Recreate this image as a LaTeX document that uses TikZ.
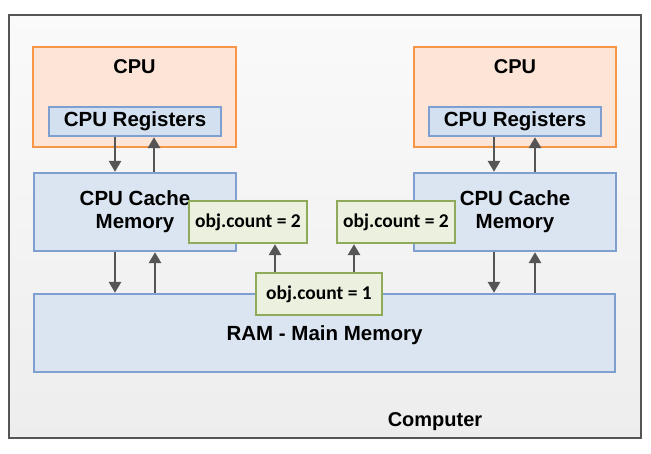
\documentclass[tikz,border=0pt]{standalone}
\usepackage{fontspec}
\setmainfont{Liberation Sans}
\newfontfamily\objfont{Carlito}
\usetikzlibrary{arrows.meta}
\definecolor{cpufill}{HTML}{FCE4D6}
\definecolor{cpuline}{HTML}{F79646}
\definecolor{bluefill}{HTML}{DBE5F1}
\definecolor{regfill}{HTML}{D3E0F0}
\definecolor{blueline}{HTML}{7E9FCF}
\definecolor{greenfill}{HTML}{EBF1DE}
\definecolor{greenline}{HTML}{8FAA58}
\definecolor{arrowgray}{HTML}{555555}
\definecolor{frameline}{HTML}{555555}
\tikzset{
  box/.style={rectangle, inner sep=0pt, line width=2.3pt, font=\fontsize{20.5}{23}\selectfont\bfseries, align=center},
  cpubox/.style={box, draw=cpuline, fill=cpufill},
  bluebox/.style={box, draw=blueline, fill=bluefill},
  regbox/.style={box, draw=blueline, fill=regfill},
  objbox/.style={rectangle, inner sep=0pt, line width=2.3pt, draw=greenline, fill=greenfill, font=\objfont\fontsize{19.5}{22}\selectfont\bfseries},
  arr/.style={draw=arrowgray, line width=2.8pt, -{Triangle[length=11pt,width=12pt]}},
  lbl/.style={font=\fontsize{20}{22}\selectfont\bfseries, inner sep=0pt}
}
\begin{document}
\begin{tikzpicture}[x=1pt,y=-1pt]
\useasboundingbox (0,0) rectangle (651,453);
\node[rectangle, draw=frameline, line width=2.5pt, top color=white!98!black, bottom color=white!93!black, minimum width=632pt, minimum height=423pt, inner sep=0pt] (computer) at (325,226.5) {};
\node[lbl] (complbl) at (435,422) {Computer};
% left
\node[cpubox, minimum width=203pt, minimum height=100pt] (cpuL) at (134.5,97) {};
\node[lbl] (cpuLt) at (134.5,67) {CPU};
\node[regbox, minimum width=172pt, minimum height=29pt] (regL) at (135,121.5) {CPU Registers};
\node[bluebox, minimum width=202pt, minimum height=78pt] (cacheL) at (135,212) {CPU Cache\\Memory};
% right
\node[cpubox, minimum width=202pt, minimum height=100pt] (cpuR) at (515,97) {};
\node[lbl] (cpuRt) at (515,67) {CPU};
\node[regbox, minimum width=172pt, minimum height=29pt] (regR) at (515,121.5) {CPU Registers};
\node[bluebox, minimum width=202pt, minimum height=78pt] (cacheR) at (515,212) {CPU Cache\\Memory};
% RAM
\node[bluebox, minimum width=581pt, minimum height=78pt, text depth=0pt] (ram) at (324.5,333) {RAM - Main Memory};
% objs
\node[objbox, minimum width=118pt, minimum height=42pt] (objL) at (248,222) {obj.count = 2};
\node[objbox, minimum width=118pt, minimum height=42pt] (objR) at (396,222) {obj.count = 2};
\node[objbox, minimum width=126pt, minimum height=42pt] (obj1) at (319,294) {obj.count = 1};
% arrows regs <-> cache
\draw[arr] ([xshift=-20pt]regL.south) -- ([xshift=-20pt]regL.south |- cacheL.north);
\draw[arr] ([xshift=19pt]regL.south |- cacheL.north) -- ([xshift=19pt]regL.south);
\draw[arr] ([xshift=-21pt]regR.south) -- ([xshift=-21pt]regR.south |- cacheR.north);
\draw[arr] ([xshift=20pt]regR.south |- cacheR.north) -- ([xshift=20pt]regR.south);
% cache <-> ram
\draw[arr] ([xshift=-20pt]cacheL.south) -- ([xshift=-20pt]cacheL.south |- ram.north);
\draw[arr] ([xshift=20pt]cacheL.south |- ram.north) -- ([xshift=20pt]cacheL.south);
\draw[arr] ([xshift=-21pt]cacheR.south) -- ([xshift=-21pt]cacheR.south |- ram.north);
\draw[arr] ([xshift=20pt]cacheR.south |- ram.north) -- ([xshift=20pt]cacheR.south);
% obj1 -> obj2
\draw[arr] ([xshift=-44pt]obj1.north) -- ([xshift=-44pt]obj1.north |- objL.south);
\draw[arr] ([xshift=35pt]obj1.north) -- ([xshift=35pt]obj1.north |- objR.south);
\end{tikzpicture}
\end{document}
